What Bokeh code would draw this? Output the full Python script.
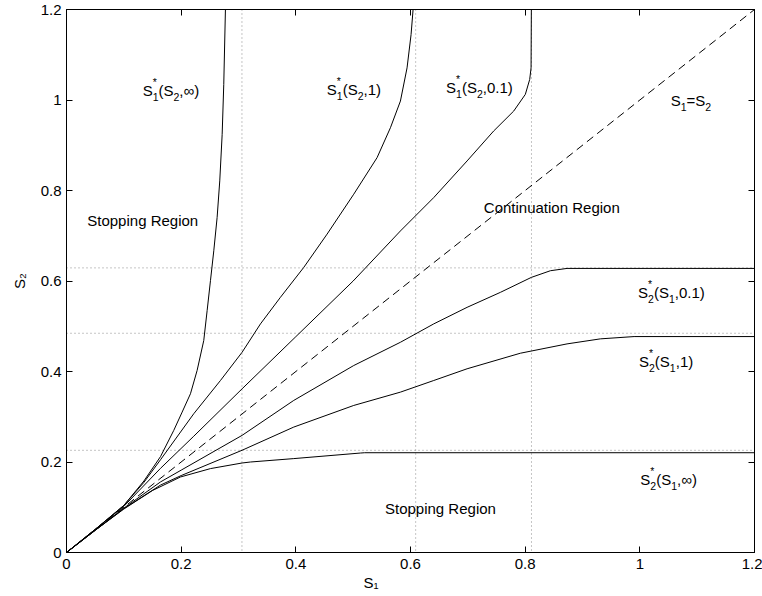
import math
from bokeh.plotting import figure
from bokeh.models import LinearAxis, FixedTicker, CustomJSTickFormatter, Span, Label, Title
from bokeh.embed import file_html
from bokeh.resources import INLINE

# ---------------- data ----------------
tick_values = [0, 0.2, 0.4, 0.6, 0.8, 1.0, 1.2]

# S1*(S2, inf)
s1_inf_x = [0, 0.05, 0.1, 0.135, 0.164, 0.1871, 0.2017, 0.2162, 0.2278, 0.2394, 0.2453,
            0.2511, 0.2569, 0.2627, 0.2673, 0.2715, 0.2743, 0.2772]
s1_inf_y = [0, 0.051, 0.104, 0.158, 0.212, 0.2699, 0.3103, 0.3508, 0.4022, 0.4684, 0.5345,
            0.6007, 0.6668, 0.7402, 0.8212, 0.9241, 1.034, 1.2]

# S1*(S2, 1)
s1_1_x = [0, 0.05, 0.1, 0.135, 0.164, 0.222, 0.2685, 0.3063, 0.3383, 0.3731, 0.4138, 0.4545,
          0.501, 0.5417, 0.565, 0.5824, 0.594, 0.601, 0.6045]
s1_1_y = [0, 0.051, 0.104, 0.155, 0.205, 0.3067, 0.3801, 0.4426, 0.5052, 0.5639, 0.630, 0.7036,
          0.7918, 0.8726, 0.9387, 0.9976, 1.071, 1.1446, 1.2]

# S1*(S2, 0.1)
s1_01_x = [0, 0.05, 0.1, 0.164, 0.222, 0.3063, 0.4, 0.5, 0.5824, 0.6405, 0.6987, 0.745, 0.78,
           0.8003, 0.8079, 0.8103, 0.8108]
s1_01_y = [0, 0.051, 0.102, 0.186, 0.257, 0.3618, 0.477, 0.600, 0.7106, 0.7843, 0.8653, 0.9314,
           0.9755, 1.0124, 1.0454, 1.071, 1.2]

# S2*(S1, 0.1)
s2_01_x = [0, 0.05, 0.1, 0.164, 0.2, 0.3063, 0.3964, 0.501, 0.5824, 0.6405, 0.6987, 0.7568,
           0.8108, 0.844, 0.873, 1.2]
s2_01_y = [0, 0.049, 0.098, 0.156, 0.182, 0.2589, 0.3361, 0.4132, 0.4646, 0.5052, 0.5418, 0.5749,
           0.608, 0.6227, 0.6278, 0.6278]

# S2*(S1, 1)
s2_1_x = [0, 0.05, 0.1, 0.164, 0.2, 0.3063, 0.3964, 0.501, 0.5824, 0.6405, 0.6987, 0.7916,
          0.873, 0.9311, 0.99, 1.2]
s2_1_y = [0, 0.049, 0.097, 0.149, 0.170, 0.226, 0.2772, 0.325, 0.3544, 0.3801, 0.406, 0.4404,
          0.461, 0.4721, 0.4772, 0.4772]

# S2*(S1, inf)
s2_inf_x = [0, 0.05, 0.1, 0.15, 0.1988, 0.2511, 0.3063, 0.3208, 0.3964, 0.5126, 0.52, 1.2]
s2_inf_y = [0, 0.049, 0.096, 0.137, 0.1669, 0.1854, 0.1978, 0.2, 0.2075, 0.2198, 0.2205, 0.2205]

# S1 = S2
diag_x = [0, 1.2]
diag_y = [0, 1.2]

# dotted asymptote levels
asym_s1 = [0.306, 0.609, 0.811]
asym_s2 = [0.629, 0.4845, 0.2258]

FONT = "Liberation Sans"
BIG = 15
SMALL = 10.5

p = figure(width=762, height=596, output_backend="svg", toolbar_location=None,
           x_range=(0, 1.2), y_range=(0, 1.2),
           min_border_left=66, min_border_right=8, min_border_top=9, min_border_bottom=44,
           background_fill_color="white", border_fill_color="white")
p.xgrid.visible = False
p.ygrid.visible = False
p.outline_line_color = "black"
p.outline_line_width = 1

fmt_num = CustomJSTickFormatter(code="return (Math.round(tick*1000)/1000).toString();")
fmt_none = CustomJSTickFormatter(code="return '';")


def style_axis(ax, fmt, show):
    ax.ticker = FixedTicker(ticks=tick_values)
    ax.formatter = fmt
    ax.major_tick_in = 6
    ax.major_tick_out = 0
    ax.minor_tick_line_color = None
    ax.axis_line_color = "black"
    ax.axis_line_width = 1
    ax.major_tick_line_color = "black"
    ax.major_label_text_font = FONT
    ax.major_label_text_color = "black"
    if show:
        ax.major_label_text_font_size = f"{BIG}px"
    else:
        ax.major_label_text_font_size = "0px"
        ax.major_label_standoff = 0


style_axis(p.xaxis[0], fmt_num, True)
p.xaxis[0].major_label_standoff = 6
style_axis(p.yaxis[0], fmt_num, True)
p.yaxis[0].major_label_standoff = 5
p.yaxis[0].axis_label = "S\u2082"
p.yaxis[0].axis_label_text_font = FONT
p.yaxis[0].axis_label_text_font_size = f"{BIG}px"
p.yaxis[0].axis_label_text_font_style = "normal"
p.yaxis[0].axis_label_text_color = "black"
p.yaxis[0].axis_label_standoff = 10

top_axis = LinearAxis()
style_axis(top_axis, fmt_none, False)
p.add_layout(top_axis, "above")
right_axis = LinearAxis()
style_axis(right_axis, fmt_none, False)
p.add_layout(right_axis, "right")

# x-axis title (placed like the reference, left of centre)
p.add_layout(Title(text="S\u2081", align="left", offset=297, standoff=0,
                   text_font=FONT, text_font_size=f"{BIG}px", text_font_style="normal",
                   text_color="black"), "below")

for v in asym_s1:
    p.add_layout(Span(location=v, dimension="height", line_color="#8a8a8a",
                      line_dash="1 3", line_width=1, level="underlay"))
for v in asym_s2:
    p.add_layout(Span(location=v, dimension="width", line_color="#8a8a8a",
                      line_dash="1 3", line_width=1, level="underlay"))

for xs, ys in [(s1_inf_x, s1_inf_y), (s1_1_x, s1_1_y), (s1_01_x, s1_01_y),
               (s2_01_x, s2_01_y), (s2_1_x, s2_1_y), (s2_inf_x, s2_inf_y)]:
    p.line(xs, ys, line_color="black", line_width=1)
p.line(diag_x, diag_y, line_color="black", line_width=1, line_dash="8 5")

# ---------------- text ----------------
CW = {'S': 0.667, '(': 0.333, ')': 0.333, ',': 0.278, '.': 0.278, '=': 0.584,
      '*': 0.389, '\u221e': 0.713, ' ': 0.278}


def tw(s, size):
    return sum(CW.get(c, 0.556) for c in s) * size


def put(x, y, dx, dy, txt, size):
    p.add_layout(Label(x=x, y=y, x_offset=dx, y_offset=dy, text=txt, text_font=FONT,
                       text_font_size=f"{size}px", text_baseline="alphabetic",
                       text_align="left", text_color="black"))


def rich(x, y, parts, dn=6.5, up=8.5):
    off = 0.0
    for kind, txt in parts:
        if kind == "n":
            put(x, y, off, 0, txt, BIG)
            off += tw(txt, BIG)
        elif kind == "b":
            put(x, y, off, -dn, txt, SMALL)
            off += tw(txt, SMALL)
        else:
            put(x, y, off, -dn, txt[0], SMALL)
            put(x, y, off, up, txt[1], SMALL)
            off += max(tw(txt[0], SMALL), tw(txt[1], SMALL))


INF = "\u221e"
rich(0.1328, 1.021, [("n", "S"), ("bp", ("1", "*")), ("n", "(S"), ("b", "2"), ("n", "," + INF + ")")])
rich(0.4541, 1.0232, [("n", "S"), ("bp", ("1", "*")), ("n", "(S"), ("b", "2"), ("n", ",1)")])
rich(0.662, 1.0287, [("n", "S"), ("bp", ("1", "*")), ("n", "(S"), ("b", "2"), ("n", ",0.1)")])
rich(1.0538, 0.9989, [("n", "S"), ("b", "1"), ("n", "=S"), ("b", "2")])
rich(0.9969, 0.5735, [("n", "S"), ("bp", ("2", "*")), ("n", "(S"), ("b", "1"), ("n", ",0.1)")])
rich(0.9986, 0.421, [("n", "S"), ("bp", ("2", "*")), ("n", "(S"), ("b", "1"), ("n", ",1)")])
rich(1.0009, 0.1624, [("n", "S"), ("bp", ("2", "*")), ("n", "(S"), ("b", "1"), ("n", "," + INF + ")")])
rich(0.7279, 0.7635, [("n", "Continuation Region")])
rich(0.0362, 0.7348, [("n", "Stopping Region")])
rich(0.5555, 0.0972, [("n", "Stopping Region")])

open("out.html", "w").write(file_html(p, INLINE))
